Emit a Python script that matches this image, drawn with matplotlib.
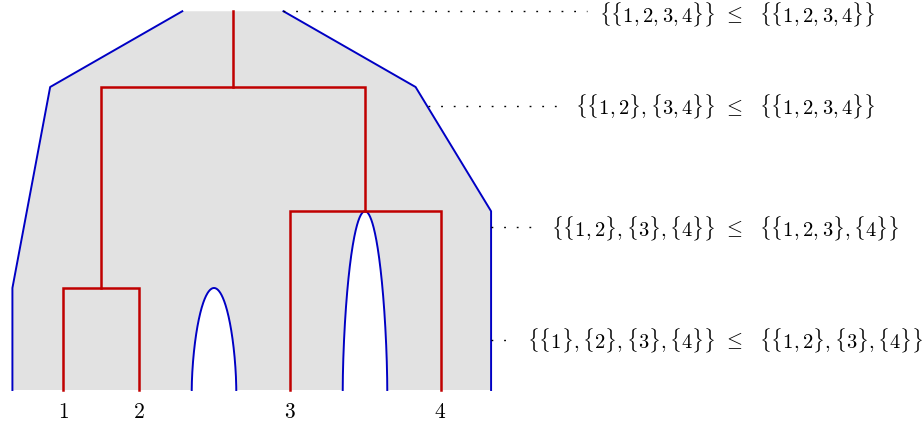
import numpy as np
import matplotlib
matplotlib.use("Agg")
import matplotlib.pyplot as plt
from matplotlib.transforms import offset_copy

plt.rcParams['mathtext.fontset'] = 'cm'

# ---- data ----
leaf_labels = ['1', '2', '3', '4']
leaf_x = [0.0, 1.0, 3.0, 5.0]
h12 = 1.01      # merge height of {1,2}
h34 = 1.77      # merge height of {3,4}
h_root = 3.0    # merge height of {12,34}
h_top = 3.75    # top of the root stem
margin = 0.67
arch_centers = [2.0, 4.0]
arch_heights = [h12, h34]
arch_halfwidth = 0.295

label_y = [3.75, 2.81, 1.61, 0.495]
label_left = [r'$\{\{1,2,3,4\}\}$', r'$\{\{1,2\},\{3,4\}\}$',
              r'$\{\{1,2\},\{3\},\{4\}\}$', r'$\{\{1\},\{2\},\{3\},\{4\}\}$']
label_right = [r'$\{\{1,2,3,4\}\}$', r'$\{\{1,2,3,4\}\}$',
               r'$\{\{1,2,3\},\{4\}\}$', r'$\{\{1,2\},\{3\},\{4\}\}$']
dot_start_x = [2.91, 4.83, 5.67, 5.67]

GRAY = '#e2e2e2'
BLUE = '#0000c4'
RED = '#c00000'
FS = 14.8

W, H = 922, 427
fig = plt.figure(figsize=(W / 100, H / 100), dpi=100)
ax = fig.add_axes([0, 0, 1, 1])
px0, pxu = 63, 75.5
py0, pyu = 391, 101
ax.set_xlim((0 - px0) / pxu, (W - px0) / pxu)
ax.set_ylim((py0 - H) / pyu, py0 / pyu)
ax.axis('off')

c12 = (leaf_x[0] + leaf_x[1]) / 2
c34 = (leaf_x[2] + leaf_x[3]) / 2
croot = (c12 + c34) / 2
L = leaf_x[0] - margin
R = leaf_x[3] + margin


def arch(c, h, w, n=120):
    t = np.linspace(0, 1, n)
    s = 1 - (1 - t) ** 2          # denser sampling near the top
    d = (1 - s ** 1.7) ** 0.5
    xl = c - w * d
    xr = c + w * d
    x = np.concatenate([xl, xr[::-1]])
    y = np.concatenate([h * s, (h * s)[::-1]])
    return x, y

# shaded region
xs, ys = [L], [0.0]
arches = []
for c, h in zip(arch_centers, arch_heights):
    ax_, ay_ = arch(c, h, arch_halfwidth)
    arches.append((ax_, ay_))
    xs += list(ax_)
    ys += list(ay_)
outline = [(R, 0), (R, h34), (c34 + margin, h_root), (croot + margin, h_top),
           (croot - margin, h_top), (c12 - margin, h_root), (L, h12), (L, 0)]
for x, y in outline:
    xs.append(x)
    ys.append(y)
ax.fill(xs, ys, color=GRAY, lw=0, zorder=1)

# blue boundary
ax.plot([L, L, c12 - margin, croot - margin], [0, h12, h_root, h_top], color=BLUE, lw=1.4, zorder=2)
ax.plot([croot + margin, c34 + margin, R, R], [h_top, h_root, h34, 0], color=BLUE, lw=1.4, zorder=2)
for ax_, ay_ in arches:
    ax.plot(ax_, ay_, color=BLUE, lw=1.4, zorder=2)

# red dendrogram
lw_r = 1.8
segs = [
    ([leaf_x[0], leaf_x[0], leaf_x[1], leaf_x[1]], [0, h12, h12, 0]),
    ([leaf_x[2], leaf_x[2], leaf_x[3], leaf_x[3]], [0, h34, h34, 0]),
    ([c12, c12, c34, c34], [h12, h_root, h_root, h34]),
    ([croot, croot], [h_root, h_top]),
]
for sx, sy in segs:
    ax.plot(sx, sy, color=RED, lw=lw_r, zorder=3, solid_joinstyle='miter')

# leaf labels
for x, lab in zip(leaf_x, leaf_labels):
    ax.text(x, -0.21, '$' + lab + '$', ha='center', va='center', fontsize=15.5)

# right labels
xl = (716 - px0) / pxu
xm = (733 - px0) / pxu
xr = (759 - px0) / pxu
fig.canvas.draw()
renderer = fig.canvas.get_renderer()
inv = ax.transData.inverted()
for i, (y, ll, rr, sx) in enumerate(zip(label_y, label_left, label_right, dot_start_x)):
    # keep the top label fully inside the canvas
    tr = offset_copy(ax.transData, fig=fig, x=0, y=-2.2 if i == 0 else 0, units='dots')
    t = ax.text(xl, y, ll, ha='right', va='center', fontsize=FS, transform=tr)
    ax.text(xm, y, r'$\leq$', ha='center', va='center', fontsize=FS, transform=tr)
    ax.text(xr, y, rr, ha='left', va='center', fontsize=FS, transform=tr)
    bb = t.get_window_extent(renderer)
    xend = inv.transform((bb.x0 - 12, 0))[0]
    ax.plot([sx, xend], [y, y], color='black', lw=1.0, dashes=(1.3, 7.8), zorder=2)

fig.savefig('out.png', dpi=100)
